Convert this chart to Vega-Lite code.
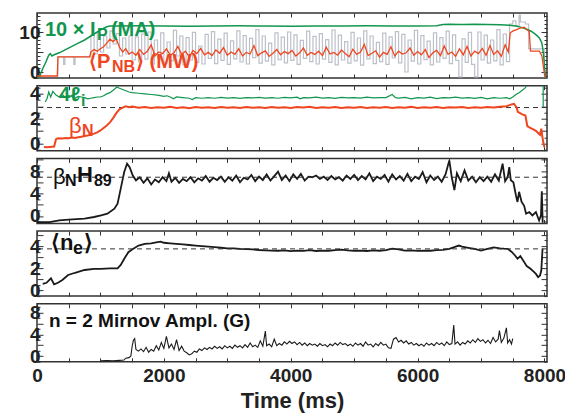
{
"$schema": "https://vega.github.io/schema/vega-lite/v6.json",
"padding": {"left": 6, "top": 11, "right": 0, "bottom": 0},
"spacing": 7.7,
"bounds": "flush",
"config": {
 "view": {"stroke": "#333", "strokeWidth": 1.5},
 "axis": {"grid": false, "domain": false, "tickColor": "#333", "tickWidth": 1, "tickSize": -4, "labelFont": "Liberation Sans", "labelFontWeight": "bold", "labelFontSize": 19, "labelColor": "#222", "labelPadding": 3, "titleFont": "Liberation Sans", "titleFontWeight": "bold", "titleFontSize": 22, "titleColor": "#222", "labelOverlap": false, "labelFlush": false, "labelBound": false, "format": "d"},
 "text": {"font": "Liberation Sans"}
},
"datasets": {
 "ip": [{"t":0,"v":-1.5},{"t":40,"v":-1.2},{"t":90,"v":0.8},{"t":140,"v":2.5},{"t":185,"v":4.2},{"t":210,"v":4.6},{"t":235,"v":4.0},{"t":270,"v":4.3},{"t":350,"v":4.8},{"t":450,"v":5.6},{"t":550,"v":6.4},{"t":650,"v":7.2},{"t":750,"v":8.0},{"t":850,"v":9.0},{"t":950,"v":10.0},{"t":1030,"v":10.8},{"t":1100,"v":11.3},{"t":1150,"v":11.5},{"t":1300,"v":11.5},{"t":1600,"v":11.55},{"t":2000,"v":11.5},{"t":2400,"v":11.45},{"t":2800,"v":11.5},{"t":3200,"v":11.55},{"t":3600,"v":11.5},{"t":4000,"v":11.45},{"t":4400,"v":11.5},{"t":4800,"v":11.5},{"t":5200,"v":11.55},{"t":5600,"v":11.5},{"t":6000,"v":11.5},{"t":6300,"v":11.55},{"t":6400,"v":11.85},{"t":6500,"v":11.95},{"t":6700,"v":11.9},{"t":6900,"v":11.95},{"t":7100,"v":11.85},{"t":7300,"v":11.8},{"t":7450,"v":11.7},{"t":7550,"v":11.5},{"t":7650,"v":11.1},{"t":7720,"v":10.7},{"t":7790,"v":10.2},{"t":7860,"v":9.4},{"t":7920,"v":8.5},{"t":7960,"v":7.2},{"t":7985,"v":4.5},{"t":8005,"v":0.5},{"t":8020,"v":-1.5}],
 "pnbRaw": [{"t":320,"v":-1.0},{"t":330,"v":3.8},{"t":420,"v":1.9},{"t":440,"v":3.8},{"t":580,"v":1.9},{"t":600,"v":3.8},{"t":850,"v":9.2},{"t":900,"v":4.5},{"t":950,"v":9.8},{"t":1000,"v":5.0},{"t":1050,"v":9.0},{"t":1100,"v":6.0},{"t":1150,"v":10.2},{"t":1200,"v":7.0},{"t":1250,"v":9.6},{"t":1300,"v":4.0},{"t":1350,"v":8.5},{"t":1400,"v":4.5},{"t":1450,"v":9.0},{"t":1500,"v":3.0},{"t":1550,"v":8.8},{"t":1600,"v":2.5},{"t":1650,"v":9.5},{"t":1700,"v":3.2},{"t":1750,"v":10.0},{"t":1800,"v":2.0},{"t":1850,"v":8.0},{"t":1900,"v":3.5},{"t":1950,"v":9.8},{"t":2000,"v":2.2},{"t":2050,"v":7.5},{"t":2100,"v":2.8},{"t":2150,"v":10.4},{"t":2200,"v":4.0},{"t":2250,"v":9.0},{"t":2300,"v":1.8},{"t":2350,"v":8.6},{"t":2400,"v":3.0},{"t":2450,"v":9.9},{"t":2500,"v":2.4},{"t":2550,"v":6.5},{"t":2600,"v":2.0},{"t":2650,"v":9.4},{"t":2700,"v":3.4},{"t":2750,"v":10.1},{"t":2800,"v":2.1},{"t":2850,"v":8.2},{"t":2900,"v":2.9},{"t":2950,"v":9.7},{"t":3000,"v":1.9},{"t":3050,"v":7.8},{"t":3100,"v":3.3},{"t":3150,"v":10.3},{"t":3200,"v":2.5},{"t":3250,"v":9.1},{"t":3300,"v":2.0},{"t":3350,"v":8.4},{"t":3400,"v":3.6},{"t":3450,"v":10.6},{"t":3500,"v":2.2},{"t":3550,"v":9.0},{"t":3600,"v":2.7},{"t":3650,"v":7.2},{"t":3700,"v":1.8},{"t":3750,"v":9.8},{"t":3800,"v":3.1},{"t":3850,"v":8.7},{"t":3900,"v":2.3},{"t":3950,"v":10.0},{"t":4000,"v":2.9},{"t":4050,"v":9.3},{"t":4100,"v":1.9},{"t":4150,"v":7.9},{"t":4200,"v":3.4},{"t":4250,"v":10.2},{"t":4300,"v":2.6},{"t":4350,"v":8.9},{"t":4400,"v":2.0},{"t":4450,"v":9.6},{"t":4500,"v":3.2},{"t":4550,"v":8.1},{"t":4600,"v":2.4},{"t":4650,"v":10.5},{"t":4700,"v":1.8},{"t":4750,"v":9.2},{"t":4800,"v":3.0},{"t":4850,"v":7.6},{"t":4900,"v":2.2},{"t":4950,"v":9.9},{"t":5000,"v":2.8},{"t":5050,"v":8.5},{"t":5100,"v":1.7},{"t":5150,"v":10.3},{"t":5200,"v":3.3},{"t":5250,"v":9.0},{"t":5300,"v":2.1},{"t":5350,"v":7.4},{"t":5400,"v":2.6},{"t":5450,"v":9.7},{"t":5500,"v":1.9},{"t":5550,"v":8.8},{"t":5600,"v":3.5},{"t":5650,"v":10.1},{"t":5700,"v":2.3},{"t":5750,"v":9.4},{"t":5800,"v":0.0},{"t":5850,"v":8.0},{"t":5900,"v":2.7},{"t":5950,"v":10.4},{"t":6000,"v":2.0},{"t":6050,"v":9.1},{"t":6100,"v":3.1},{"t":6150,"v":7.7},{"t":6200,"v":1.8},{"t":6250,"v":9.8},{"t":6300,"v":2.5},{"t":6350,"v":8.6},{"t":6400,"v":3.4},{"t":6450,"v":10.2},{"t":6500,"v":2.1},{"t":6550,"v":9.3},{"t":6600,"v":2.9},{"t":6650,"v":-1.2},{"t":6700,"v":8.3},{"t":6750,"v":2.4},{"t":6800,"v":9.9},{"t":6850,"v":1.9},{"t":6900,"v":-1.2},{"t":6950,"v":10.0},{"t":7000,"v":3.0},{"t":7050,"v":9.2},{"t":7100,"v":2.2},{"t":7150,"v":8.0},{"t":7200,"v":2.8},{"t":7250,"v":10.6},{"t":7300,"v":1.8},{"t":7350,"v":9.5},{"t":7400,"v":2.6},{"t":7450,"v":12.0},{"t":7500,"v":12.8},{"t":7550,"v":11.5},{"t":7600,"v":14.2},{"t":7620,"v":12.5},{"t":7700,"v":12.0},{"t":7750,"v":5.8},{"t":7950,"v":5.8},{"t":8000,"v":-1.4}],
 "pnb": [{"t":0,"v":-1.0},{"t":320,"v":-1.0},{"t":330,"v":3.8},{"t":830,"v":3.8},{"t":850,"v":5.0},{"t":900,"v":5.6},{"t":950,"v":5.2},{"t":1000,"v":5.8},{"t":1050,"v":6.3},{"t":1100,"v":7.2},{"t":1150,"v":8.2},{"t":1200,"v":7.6},{"t":1250,"v":8.3},{"t":1300,"v":6.2},{"t":1350,"v":5.0},{"t":1400,"v":5.8},{"t":1450,"v":4.5},{"t":1500,"v":5.0},{"t":1560,"v":4.2},{"t":1620,"v":5.6},{"t":1680,"v":4.4},{"t":1740,"v":5.2},{"t":1800,"v":6.8},{"t":1860,"v":4.0},{"t":1920,"v":5.0},{"t":1980,"v":4.6},{"t":2040,"v":5.8},{"t":2100,"v":4.2},{"t":2160,"v":4.8},{"t":2220,"v":6.4},{"t":2280,"v":4.4},{"t":2340,"v":5.2},{"t":2400,"v":3.8},{"t":2460,"v":5.4},{"t":2520,"v":4.6},{"t":2580,"v":5.9},{"t":2640,"v":4.3},{"t":2700,"v":4.9},{"t":2760,"v":4.1},{"t":2820,"v":5.5},{"t":2880,"v":4.7},{"t":2940,"v":6.1},{"t":3000,"v":4.2},{"t":3060,"v":5.0},{"t":3120,"v":4.4},{"t":3180,"v":5.8},{"t":3240,"v":4.0},{"t":3300,"v":4.9},{"t":3360,"v":4.5},{"t":3420,"v":6.6},{"t":3480,"v":4.1},{"t":3540,"v":4.8},{"t":3600,"v":5.3},{"t":3660,"v":3.9},{"t":3720,"v":4.7},{"t":3780,"v":5.6},{"t":3840,"v":4.3},{"t":3900,"v":5.1},{"t":3960,"v":4.6},{"t":4020,"v":5.4},{"t":4080,"v":4.0},{"t":4140,"v":4.8},{"t":4200,"v":6.0},{"t":4260,"v":4.2},{"t":4320,"v":4.9},{"t":4380,"v":4.4},{"t":4440,"v":5.2},{"t":4500,"v":4.1},{"t":4560,"v":6.2},{"t":4620,"v":4.5},{"t":4680,"v":4.9},{"t":4740,"v":4.2},{"t":4800,"v":5.5},{"t":4860,"v":4.6},{"t":4920,"v":3.8},{"t":4980,"v":5.7},{"t":5040,"v":4.4},{"t":5100,"v":5.0},{"t":5160,"v":6.9},{"t":5220,"v":4.1},{"t":5280,"v":4.7},{"t":5340,"v":5.3},{"t":5400,"v":3.7},{"t":5460,"v":4.9},{"t":5520,"v":4.4},{"t":5580,"v":6.3},{"t":5640,"v":4.0},{"t":5700,"v":5.2},{"t":5760,"v":4.5},{"t":5820,"v":4.8},{"t":5880,"v":6.0},{"t":5940,"v":4.2},{"t":6000,"v":5.1},{"t":6060,"v":4.3},{"t":6120,"v":5.6},{"t":6180,"v":3.6},{"t":6240,"v":4.8},{"t":6300,"v":5.4},{"t":6360,"v":4.1},{"t":6420,"v":6.5},{"t":6480,"v":4.4},{"t":6540,"v":5.0},{"t":6600,"v":3.9},{"t":6660,"v":5.8},{"t":6720,"v":4.3},{"t":6780,"v":6.4},{"t":6840,"v":4.0},{"t":6900,"v":5.2},{"t":6960,"v":4.6},{"t":7020,"v":5.9},{"t":7080,"v":4.2},{"t":7140,"v":6.6},{"t":7200,"v":4.4},{"t":7260,"v":5.3},{"t":7320,"v":3.9},{"t":7380,"v":6.8},{"t":7430,"v":5.0},{"t":7460,"v":9.8},{"t":7500,"v":10.2},{"t":7560,"v":10.6},{"t":7620,"v":11.0},{"t":7680,"v":11.2},{"t":7720,"v":10.6},{"t":7760,"v":10.1},{"t":7780,"v":5.2},{"t":7850,"v":5.2},{"t":7920,"v":5.2},{"t":7960,"v":4.0},{"t":7990,"v":0.5},{"t":8010,"v":-1.4}],
 "li": [{"t":130,"v":3.35},{"t":160,"v":3.65},{"t":185,"v":4.15},{"t":215,"v":3.75},{"t":250,"v":4.2},{"t":300,"v":3.9},{"t":350,"v":3.75},{"t":400,"v":3.95},{"t":450,"v":3.7},{"t":500,"v":3.85},{"t":550,"v":3.8},{"t":600,"v":3.65},{"t":650,"v":3.8},{"t":700,"v":3.75},{"t":750,"v":3.7},{"t":800,"v":3.6},{"t":850,"v":3.65},{"t":900,"v":3.7},{"t":950,"v":3.75},{"t":1000,"v":3.75},{"t":1050,"v":3.85},{"t":1100,"v":4.0},{"t":1150,"v":4.1},{"t":1200,"v":4.3},{"t":1260,"v":4.55},{"t":1300,"v":4.45},{"t":1350,"v":4.35},{"t":1400,"v":4.25},{"t":1450,"v":4.15},{"t":1500,"v":4.1},{"t":1600,"v":4.05},{"t":1700,"v":4.0},{"t":1800,"v":3.95},{"t":1900,"v":3.9},{"t":2000,"v":3.8},{"t":2050,"v":3.85},{"t":2100,"v":3.75},{"t":2150,"v":3.6},{"t":2200,"v":3.75},{"t":2300,"v":3.7},{"t":2400,"v":3.65},{"t":2450,"v":3.55},{"t":2500,"v":3.7},{"t":2600,"v":3.65},{"t":2700,"v":3.7},{"t":2800,"v":3.65},{"t":2900,"v":3.72},{"t":3000,"v":3.66},{"t":3100,"v":3.7},{"t":3200,"v":3.64},{"t":3300,"v":3.7},{"t":3400,"v":3.68},{"t":3500,"v":3.72},{"t":3600,"v":3.66},{"t":3700,"v":3.7},{"t":3800,"v":3.65},{"t":3900,"v":3.72},{"t":4000,"v":3.68},{"t":4100,"v":3.74},{"t":4150,"v":3.6},{"t":4200,"v":3.7},{"t":4300,"v":3.68},{"t":4400,"v":3.74},{"t":4500,"v":3.66},{"t":4600,"v":3.7},{"t":4700,"v":3.64},{"t":4800,"v":3.72},{"t":4900,"v":3.68},{"t":5000,"v":3.7},{"t":5100,"v":3.66},{"t":5200,"v":3.74},{"t":5300,"v":3.68},{"t":5400,"v":3.7},{"t":5500,"v":3.7},{"t":5600,"v":3.95},{"t":5650,"v":3.7},{"t":5700,"v":3.66},{"t":5800,"v":3.72},{"t":5900,"v":3.6},{"t":6000,"v":3.7},{"t":6100,"v":3.66},{"t":6200,"v":3.74},{"t":6300,"v":3.62},{"t":6400,"v":3.7},{"t":6500,"v":3.68},{"t":6600,"v":3.74},{"t":6700,"v":3.66},{"t":6800,"v":3.7},{"t":6900,"v":3.64},{"t":7000,"v":3.72},{"t":7100,"v":3.6},{"t":7200,"v":3.7},{"t":7300,"v":3.65},{"t":7400,"v":3.7},{"t":7450,"v":3.6},{"t":7500,"v":3.75},{"t":7550,"v":3.95},{"t":7600,"v":4.1},{"t":7650,"v":4.3},{"t":7700,"v":4.5},{"t":7740,"v":4.9}],
 "liEnd": [{"t":7980,"v":4.9},{"t":7980,"v":2.95}],
 "bn": [{"t":110,"v":-0.28},{"t":150,"v":-0.3},{"t":200,"v":-0.28},{"t":270,"v":-0.25},{"t":300,"v":0.35},{"t":330,"v":0.42},{"t":400,"v":0.4},{"t":450,"v":0.45},{"t":500,"v":0.42},{"t":550,"v":0.48},{"t":600,"v":0.45},{"t":650,"v":0.5},{"t":700,"v":0.55},{"t":750,"v":0.6},{"t":800,"v":0.65},{"t":850,"v":0.72},{"t":900,"v":0.8},{"t":950,"v":0.9},{"t":1000,"v":1.05},{"t":1050,"v":1.25},{"t":1100,"v":1.45},{"t":1150,"v":1.7},{"t":1200,"v":2.05},{"t":1250,"v":2.45},{"t":1300,"v":2.75},{"t":1350,"v":2.9},{"t":1400,"v":3.0},{"t":1450,"v":2.92},{"t":1500,"v":2.98},{"t":1600,"v":2.88},{"t":1700,"v":2.95},{"t":1800,"v":2.86},{"t":1900,"v":2.93},{"t":2000,"v":2.89},{"t":2100,"v":2.96},{"t":2200,"v":2.87},{"t":2300,"v":2.92},{"t":2400,"v":2.85},{"t":2500,"v":2.94},{"t":2600,"v":2.88},{"t":2700,"v":2.93},{"t":2800,"v":2.86},{"t":2900,"v":2.95},{"t":3000,"v":2.89},{"t":3100,"v":2.92},{"t":3200,"v":2.86},{"t":3300,"v":2.94},{"t":3400,"v":2.88},{"t":3500,"v":2.93},{"t":3600,"v":2.87},{"t":3700,"v":2.95},{"t":3800,"v":2.89},{"t":3900,"v":2.92},{"t":4000,"v":2.86},{"t":4100,"v":2.94},{"t":4200,"v":2.9},{"t":4300,"v":2.96},{"t":4400,"v":2.87},{"t":4500,"v":2.92},{"t":4600,"v":2.88},{"t":4700,"v":2.95},{"t":4800,"v":2.86},{"t":4900,"v":2.93},{"t":5000,"v":2.89},{"t":5100,"v":2.95},{"t":5200,"v":2.87},{"t":5300,"v":2.92},{"t":5400,"v":2.88},{"t":5500,"v":2.94},{"t":5600,"v":2.86},{"t":5700,"v":2.92},{"t":5800,"v":2.89},{"t":5900,"v":2.96},{"t":6000,"v":2.87},{"t":6100,"v":2.93},{"t":6200,"v":2.88},{"t":6300,"v":2.94},{"t":6400,"v":2.86},{"t":6500,"v":2.92},{"t":6600,"v":2.9},{"t":6700,"v":2.95},{"t":6800,"v":2.87},{"t":6900,"v":2.93},{"t":7000,"v":2.88},{"t":7100,"v":2.94},{"t":7200,"v":2.9},{"t":7300,"v":2.97},{"t":7400,"v":3.0},{"t":7480,"v":3.15},{"t":7520,"v":3.2},{"t":7560,"v":2.9},{"t":7580,"v":2.55},{"t":7650,"v":2.35},{"t":7700,"v":2.25},{"t":7730,"v":1.4},{"t":7760,"v":1.3},{"t":7800,"v":1.2},{"t":7840,"v":1.1},{"t":7870,"v":1.0},{"t":7900,"v":0.85},{"t":7930,"v":0.7},{"t":7950,"v":1.2},{"t":7965,"v":0.6},{"t":7985,"v":0.0},{"t":8000,"v":-0.3}],
 "bnh": [{"t":0,"v":-1.1},{"t":200,"v":-1.1},{"t":350,"v":-0.77},{"t":500,"v":-0.65},{"t":750,"v":-0.47},{"t":900,"v":-0.18},{"t":1010,"v":0.12},{"t":1110,"v":0.41},{"t":1220,"v":1.3},{"t":1270,"v":2.2},{"t":1320,"v":4.86},{"t":1375,"v":7.83},{"t":1420,"v":9.3},{"t":1460,"v":8.7},{"t":1510,"v":7.2},{"t":1560,"v":6.35},{"t":1620,"v":6.9},{"t":1680,"v":5.9},{"t":1740,"v":6.7},{"t":1800,"v":5.6},{"t":1860,"v":6.5},{"t":1920,"v":6.0},{"t":1980,"v":6.9},{"t":2040,"v":6.2},{"t":2080,"v":7.6},{"t":2120,"v":6.1},{"t":2180,"v":6.8},{"t":2240,"v":5.9},{"t":2300,"v":6.6},{"t":2360,"v":6.2},{"t":2420,"v":6.9},{"t":2480,"v":6.0},{"t":2540,"v":6.7},{"t":2600,"v":6.3},{"t":2660,"v":7.1},{"t":2720,"v":6.1},{"t":2780,"v":6.8},{"t":2840,"v":6.4},{"t":2900,"v":7.0},{"t":2960,"v":6.1},{"t":3020,"v":6.9},{"t":3080,"v":6.3},{"t":3140,"v":7.2},{"t":3200,"v":6.0},{"t":3260,"v":6.8},{"t":3320,"v":6.5},{"t":3380,"v":7.3},{"t":3440,"v":6.2},{"t":3500,"v":7.0},{"t":3560,"v":6.4},{"t":3620,"v":7.4},{"t":3680,"v":6.3},{"t":3740,"v":7.1},{"t":3800,"v":7.9},{"t":3860,"v":6.4},{"t":3920,"v":7.2},{"t":3980,"v":6.2},{"t":4040,"v":7.4},{"t":4100,"v":6.6},{"t":4160,"v":7.5},{"t":4220,"v":6.3},{"t":4280,"v":7.0},{"t":4340,"v":6.9},{"t":4400,"v":7.2},{"t":4460,"v":6.6},{"t":4520,"v":7.0},{"t":4580,"v":6.4},{"t":4640,"v":7.1},{"t":4700,"v":6.5},{"t":4760,"v":6.9},{"t":4820,"v":6.3},{"t":4880,"v":7.2},{"t":4940,"v":6.6},{"t":5000,"v":7.3},{"t":5060,"v":6.4},{"t":5120,"v":7.1},{"t":5180,"v":6.5},{"t":5240,"v":7.6},{"t":5300,"v":6.2},{"t":5360,"v":7.0},{"t":5420,"v":6.6},{"t":5480,"v":7.3},{"t":5540,"v":6.1},{"t":5600,"v":7.4},{"t":5660,"v":6.5},{"t":5720,"v":7.1},{"t":5780,"v":6.3},{"t":5840,"v":7.5},{"t":5900,"v":6.2},{"t":5960,"v":7.0},{"t":6020,"v":6.6},{"t":6080,"v":7.8},{"t":6140,"v":6.0},{"t":6200,"v":7.2},{"t":6260,"v":6.4},{"t":6320,"v":7.0},{"t":6380,"v":6.1},{"t":6440,"v":7.4},{"t":6500,"v":9.9},{"t":6540,"v":6.8},{"t":6580,"v":4.6},{"t":6620,"v":7.6},{"t":6680,"v":6.2},{"t":6740,"v":8.1},{"t":6800,"v":6.3},{"t":6860,"v":7.0},{"t":6920,"v":6.0},{"t":6980,"v":6.9},{"t":7040,"v":6.2},{"t":7100,"v":7.0},{"t":7160,"v":6.1},{"t":7220,"v":7.4},{"t":7280,"v":6.3},{"t":7340,"v":9.3},{"t":7380,"v":6.2},{"t":7420,"v":6.9},{"t":7445,"v":8.7},{"t":7470,"v":6.35},{"t":7510,"v":6.0},{"t":7550,"v":3.7},{"t":7575,"v":2.5},{"t":7600,"v":4.3},{"t":7640,"v":2.5},{"t":7680,"v":1.8},{"t":7710,"v":0.4},{"t":7760,"v":0.7},{"t":7810,"v":0.1},{"t":7865,"v":0.7},{"t":7915,"v":-0.8},{"t":7945,"v":0.1},{"t":7958,"v":4.4},{"t":7972,"v":-1.2}],
 "ne": [{"t":90,"v":0.6},{"t":150,"v":0.7},{"t":220,"v":1.1},{"t":270,"v":0.55},{"t":330,"v":0.7},{"t":400,"v":0.95},{"t":490,"v":1.4},{"t":600,"v":1.6},{"t":750,"v":1.85},{"t":900,"v":1.95},{"t":1010,"v":1.95},{"t":1150,"v":2.0},{"t":1270,"v":2.0},{"t":1320,"v":2.3},{"t":1380,"v":2.9},{"t":1440,"v":3.45},{"t":1500,"v":3.7},{"t":1600,"v":4.05},{"t":1700,"v":4.2},{"t":1800,"v":4.25},{"t":1900,"v":4.35},{"t":1950,"v":4.4},{"t":2000,"v":4.3},{"t":2100,"v":4.25},{"t":2200,"v":4.2},{"t":2300,"v":4.15},{"t":2400,"v":4.1},{"t":2500,"v":4.05},{"t":2600,"v":4.0},{"t":2700,"v":3.95},{"t":2800,"v":3.9},{"t":2900,"v":3.85},{"t":3000,"v":3.8},{"t":3100,"v":3.8},{"t":3200,"v":3.75},{"t":3300,"v":3.72},{"t":3400,"v":3.7},{"t":3500,"v":3.65},{"t":3600,"v":3.62},{"t":3700,"v":3.6},{"t":3800,"v":3.58},{"t":3900,"v":3.62},{"t":4000,"v":3.55},{"t":4100,"v":3.6},{"t":4200,"v":3.57},{"t":4300,"v":3.63},{"t":4400,"v":3.56},{"t":4500,"v":3.6},{"t":4600,"v":3.58},{"t":4700,"v":3.64},{"t":4800,"v":3.68},{"t":4900,"v":3.62},{"t":5000,"v":3.58},{"t":5100,"v":3.6},{"t":5200,"v":3.56},{"t":5300,"v":3.62},{"t":5400,"v":3.58},{"t":5500,"v":3.64},{"t":5600,"v":3.78},{"t":5700,"v":3.7},{"t":5800,"v":3.6},{"t":5900,"v":3.62},{"t":6000,"v":3.57},{"t":6100,"v":3.6},{"t":6200,"v":3.58},{"t":6300,"v":3.63},{"t":6400,"v":3.66},{"t":6500,"v":3.75},{"t":6600,"v":3.95},{"t":6650,"v":4.05},{"t":6700,"v":3.95},{"t":6800,"v":3.85},{"t":6900,"v":3.75},{"t":7000,"v":3.6},{"t":7100,"v":3.75},{"t":7200,"v":3.88},{"t":7300,"v":3.8},{"t":7360,"v":3.77},{"t":7420,"v":3.75},{"t":7480,"v":3.5},{"t":7530,"v":3.2},{"t":7575,"v":2.86},{"t":7620,"v":3.1},{"t":7680,"v":2.57},{"t":7720,"v":2.2},{"t":7780,"v":1.96},{"t":7830,"v":1.7},{"t":7865,"v":1.5},{"t":7900,"v":1.2},{"t":7930,"v":1.35},{"t":7950,"v":1.8},{"t":7970,"v":3.77}],
 "mir": [{"t":1000,"v":-0.9},{"t":1100,"v":-0.85},{"t":1200,"v":-0.9},{"t":1300,"v":-0.8},{"t":1370,"v":-0.75},{"t":1400,"v":-0.4},{"t":1450,"v":-0.3},{"t":1480,"v":0.0},{"t":1500,"v":1.8},{"t":1520,"v":2.9},{"t":1540,"v":3.2},{"t":1560,"v":1.2},{"t":1600,"v":0.9},{"t":1640,"v":1.3},{"t":1680,"v":0.8},{"t":1720,"v":1.6},{"t":1760,"v":0.7},{"t":1800,"v":1.2},{"t":1840,"v":0.9},{"t":1880,"v":1.9},{"t":1920,"v":1.1},{"t":1960,"v":2.5},{"t":2000,"v":1.4},{"t":2040,"v":3.6},{"t":2080,"v":1.5},{"t":2120,"v":2.2},{"t":2160,"v":1.2},{"t":2200,"v":3.0},{"t":2240,"v":1.0},{"t":2280,"v":1.8},{"t":2320,"v":0.9},{"t":2360,"v":0.6},{"t":2400,"v":0.2},{"t":2440,"v":0.4},{"t":2480,"v":0.9},{"t":2520,"v":0.7},{"t":2560,"v":1.3},{"t":2600,"v":1.0},{"t":2640,"v":1.5},{"t":2680,"v":1.2},{"t":2720,"v":1.6},{"t":2760,"v":1.3},{"t":2800,"v":1.8},{"t":2840,"v":1.4},{"t":2880,"v":1.7},{"t":2920,"v":1.3},{"t":2960,"v":1.9},{"t":3000,"v":1.5},{"t":3040,"v":1.8},{"t":3080,"v":1.4},{"t":3120,"v":2.0},{"t":3160,"v":1.6},{"t":3200,"v":1.9},{"t":3240,"v":1.5},{"t":3280,"v":2.1},{"t":3320,"v":1.6},{"t":3360,"v":2.4},{"t":3400,"v":1.7},{"t":3440,"v":2.0},{"t":3480,"v":1.6},{"t":3520,"v":2.8},{"t":3560,"v":1.8},{"t":3600,"v":4.6},{"t":3620,"v":1.9},{"t":3660,"v":2.2},{"t":3700,"v":1.7},{"t":3740,"v":3.1},{"t":3780,"v":1.9},{"t":3820,"v":2.3},{"t":3860,"v":2.0},{"t":3900,"v":2.6},{"t":3940,"v":2.2},{"t":3980,"v":2.7},{"t":4020,"v":2.3},{"t":4060,"v":2.6},{"t":4100,"v":2.1},{"t":4140,"v":2.5},{"t":4180,"v":2.0},{"t":4220,"v":2.4},{"t":4260,"v":1.9},{"t":4300,"v":2.3},{"t":4340,"v":2.0},{"t":4380,"v":2.2},{"t":4420,"v":1.8},{"t":4460,"v":2.3},{"t":4500,"v":1.9},{"t":4540,"v":2.1},{"t":4580,"v":1.7},{"t":4620,"v":2.2},{"t":4660,"v":1.9},{"t":4700,"v":2.4},{"t":4740,"v":2.0},{"t":4780,"v":2.5},{"t":4820,"v":2.1},{"t":4860,"v":2.3},{"t":4900,"v":1.9},{"t":4940,"v":2.2},{"t":4980,"v":1.8},{"t":5020,"v":2.4},{"t":5060,"v":2.0},{"t":5100,"v":2.3},{"t":5140,"v":1.8},{"t":5180,"v":2.6},{"t":5220,"v":2.0},{"t":5260,"v":2.2},{"t":5300,"v":1.7},{"t":5340,"v":2.3},{"t":5380,"v":1.9},{"t":5420,"v":2.5},{"t":5460,"v":2.0},{"t":5500,"v":2.2},{"t":5540,"v":1.5},{"t":5580,"v":1.4},{"t":5620,"v":3.1},{"t":5660,"v":3.4},{"t":5700,"v":2.6},{"t":5740,"v":2.9},{"t":5780,"v":2.4},{"t":5820,"v":2.8},{"t":5860,"v":2.2},{"t":5900,"v":2.5},{"t":5940,"v":2.0},{"t":5980,"v":2.3},{"t":6020,"v":1.9},{"t":6060,"v":2.2},{"t":6100,"v":1.8},{"t":6140,"v":2.4},{"t":6180,"v":2.0},{"t":6220,"v":2.3},{"t":6260,"v":1.9},{"t":6300,"v":2.5},{"t":6340,"v":2.1},{"t":6380,"v":2.4},{"t":6420,"v":1.9},{"t":6460,"v":2.6},{"t":6500,"v":2.1},{"t":6540,"v":2.3},{"t":6570,"v":5.7},{"t":6590,"v":2.2},{"t":6630,"v":2.6},{"t":6670,"v":2.0},{"t":6710,"v":2.5},{"t":6750,"v":2.2},{"t":6790,"v":2.8},{"t":6830,"v":2.4},{"t":6870,"v":3.0},{"t":6910,"v":2.5},{"t":6950,"v":3.2},{"t":6990,"v":2.7},{"t":7030,"v":3.0},{"t":7070,"v":2.4},{"t":7110,"v":2.9},{"t":7150,"v":2.3},{"t":7190,"v":3.4},{"t":7230,"v":2.6},{"t":7270,"v":3.1},{"t":7290,"v":4.7},{"t":7320,"v":2.5},{"t":7360,"v":3.3},{"t":7400,"v":5.2},{"t":7420,"v":2.4},{"t":7450,"v":3.0},{"t":7480,"v":2.2},{"t":7500,"v":3.2}],
 "ann": [
  {"p":1,"k":"m","s":"g","txt":"10 × I","t":126,"v":9.0},
  {"p":1,"k":"s","s":"g","txt":"P","t":946,"v":8.0},
  {"p":1,"k":"m","s":"g","txt":"(MA)","t":1166,"v":9.0},
  {"p":1,"k":"m","s":"r","txt":"⟨P","t":820,"v":1.0},
  {"p":1,"k":"s","s":"r","txt":"NB","t":1182,"v":0.0},
  {"p":1,"k":"m","s":"r","txt":"⟩ (MW)","t":1560,"v":1.0},
  {"p":2,"k":"m","s":"g","txt":"4ℓ","t":347,"v":3.43},
  {"p":2,"k":"s","s":"g","txt":"i","t":693,"v":3.02},
  {"p":2,"k":"b","s":"r","txt":"β","t":504,"v":0.85},
  {"p":2,"k":"s","s":"r","txt":"N","t":709,"v":0.6},
  {"p":3,"k":"b","s":"k","txt":"β","t":252,"v":5.7},
  {"p":3,"k":"s","s":"k","txt":"N","t":441,"v":5.34},
  {"p":3,"k":"m","s":"k","txt":"H","t":630,"v":6.05},
  {"p":3,"k":"s","s":"k","txt":"89","t":898,"v":5.34},
  {"p":4,"k":"m","s":"k","txt":"⟨n","t":221,"v":3.65},
  {"p":4,"k":"s","s":"k","txt":"e","t":567,"v":3.29},
  {"p":4,"k":"m","s":"k","txt":"⟩","t":741,"v":3.65},
  {"p":5,"k":"m","s":"k","txt":"n = 2 Mirnov Ampl. (G)","t":189,"v":5.35}
 ]
},
"vconcat": [
 {
  "width": 510, "height": 65,
  "resolve": {"axis": {"x": "independent", "y": "independent"}},
  "layer": [
   {"data": {"name": "pnbRaw"}, "mark": {"type": "line", "color": "#bcc0c8", "strokeWidth": 1.2, "interpolate": "step-after", "clip": true},
    "encoding": {
     "x": {"field": "t", "type": "quantitative", "scale": {"domain": [0, 8040], "nice": false, "zero": false}, "axis": {"orient": "bottom", "values": [0,500,1000,1500,2000,2500,3000,3500,4000,4500,5000,5500,6000,6500,7000,7500,8000], "labels": false, "title": null, "minExtent": 0, "maxExtent": 0}},
     "y": {"field": "v", "type": "quantitative", "scale": {"domain": [-1.5, 14.75], "nice": false, "zero": false}, "axis": {"orient": "left", "values": [-1,0,1,2,3,4,5,6,7,8,9,10,11,12,13,14], "labelExpr": "datum.value == 0 || datum.value == 10 ? datum.label : ''", "labelFontSize": {"condition": {"test": "datum.value == 0 || datum.value == 10", "value": 19}, "value": 0}, "tickSize": {"condition": {"test": "datum.value % 5 == 0", "value": -6}, "value": -3}, "title": null, "minExtent": 30, "maxExtent": 30}}}},
   {"data": {"name": "ip"}, "mark": {"type": "line", "color": "#12964f", "strokeWidth": 1.5, "clip": true},
    "encoding": {
     "x": {"field": "t", "type": "quantitative", "scale": {"domain": [0, 8040], "nice": false, "zero": false}, "axis": {"orient": "top", "values": [0,500,1000,1500,2000,2500,3000,3500,4000,4500,5000,5500,6000,6500,7000,7500,8000], "labels": false, "title": null, "minExtent": 0, "maxExtent": 0}},
     "y": {"field": "v", "type": "quantitative", "scale": {"domain": [-1.5, 14.75], "nice": false, "zero": false}, "axis": {"orient": "right", "values": [-1,0,1,2,3,4,5,6,7,8,9,10,11,12,13,14], "labels": false, "tickSize": {"condition": {"test": "datum.value % 5 == 0", "value": -6}, "value": -3}, "title": null, "minExtent": 0, "maxExtent": 0}}}},
   {"data": {"name": "pnb"}, "mark": {"type": "line", "color": "#f0461f", "strokeWidth": 1.3, "clip": true},
    "encoding": {
     "x": {"field": "t", "type": "quantitative", "scale": {"domain": [0, 8040], "nice": false, "zero": false}, "axis": null},
     "y": {"field": "v", "type": "quantitative", "scale": {"domain": [-1.5, 14.75], "nice": false, "zero": false}, "axis": null}}},
   {"data": {"name": "ann"}, "transform": [{"filter": "datum.p == 1 && datum.k == 'm'"}],
    "mark": {"type": "text", "align": "left", "baseline": "alphabetic", "fontSize": 20, "fontWeight": "bold"},
    "encoding": {
     "x": {"field": "t", "type": "quantitative", "scale": {"domain": [0, 8040], "nice": false, "zero": false}, "axis": null},
     "y": {"field": "v", "type": "quantitative", "scale": {"domain": [-1.5, 14.75], "nice": false, "zero": false}, "axis": null},
     "text": {"field": "txt"},
     "color": {"field": "s", "type": "nominal", "scale": {"domain": ["g", "r", "k"], "range": ["#12964f", "#f0461f", "#111111"]}, "legend": null}}},
   {"data": {"name": "ann"}, "transform": [{"filter": "datum.p == 1 && datum.k == 's'"}],
    "mark": {"type": "text", "align": "left", "baseline": "alphabetic", "fontSize": 16, "fontWeight": "bold"},
    "encoding": {
     "x": {"field": "t", "type": "quantitative", "scale": {"domain": [0, 8040], "nice": false, "zero": false}, "axis": null},
     "y": {"field": "v", "type": "quantitative", "scale": {"domain": [-1.5, 14.75], "nice": false, "zero": false}, "axis": null},
     "text": {"field": "txt"},
     "color": {"field": "s", "type": "nominal", "scale": {"domain": ["g", "r", "k"], "range": ["#12964f", "#f0461f", "#111111"]}, "legend": null}}}
  ]
 },
 {
  "width": 510, "height": 65,
  "resolve": {"axis": {"x": "independent", "y": "independent"}},
  "layer": [
   {"data": {"name": "li"}, "mark": {"type": "line", "color": "#12964f", "strokeWidth": 1.2, "clip": true},
    "encoding": {
     "x": {"field": "t", "type": "quantitative", "scale": {"domain": [0, 8040], "nice": false, "zero": false}, "axis": {"orient": "bottom", "values": [0,500,1000,1500,2000,2500,3000,3500,4000,4500,5000,5500,6000,6500,7000,7500,8000], "labels": false, "title": null, "minExtent": 0, "maxExtent": 0}},
     "y": {"field": "v", "type": "quantitative", "scale": {"domain": [-0.58, 4.66], "nice": false, "zero": false}, "axis": {"orient": "left", "values": [-0.5,0,0.5,1,1.5,2,2.5,3,3.5,4,4.5], "labelExpr": "datum.value == 0 || datum.value == 2 || datum.value == 4 ? datum.label : ''", "labelFontSize": {"condition": {"test": "datum.value == 0 || datum.value == 2 || datum.value == 4", "value": 19}, "value": 0}, "tickSize": {"condition": {"test": "datum.value % 1 == 0", "value": -6}, "value": -3}, "title": null, "minExtent": 30, "maxExtent": 30}}}},
   {"data": {"name": "liEnd"}, "mark": {"type": "line", "color": "#12964f", "strokeWidth": 1.2, "clip": true},
    "encoding": {
     "x": {"field": "t", "type": "quantitative", "scale": {"domain": [0, 8040], "nice": false, "zero": false}, "axis": null},
     "y": {"field": "v", "type": "quantitative", "scale": {"domain": [-0.58, 4.66], "nice": false, "zero": false}, "axis": null}}},
   {"data": {"values": [{}]}, "mark": {"type": "rule", "color": "#333333", "strokeWidth": 1, "strokeDash": [5, 4]},
    "encoding": {"y": {"datum": 2.9, "type": "quantitative", "scale": {"domain": [-0.58, 4.66], "nice": false, "zero": false}, "axis": null}}},
   {"data": {"name": "bn"}, "mark": {"type": "line", "color": "#f0461f", "strokeWidth": 2, "clip": true},
    "encoding": {
     "x": {"field": "t", "type": "quantitative", "scale": {"domain": [0, 8040], "nice": false, "zero": false}, "axis": {"orient": "top", "values": [0,500,1000,1500,2000,2500,3000,3500,4000,4500,5000,5500,6000,6500,7000,7500,8000], "labels": false, "title": null, "minExtent": 0, "maxExtent": 0}},
     "y": {"field": "v", "type": "quantitative", "scale": {"domain": [-0.58, 4.66], "nice": false, "zero": false}, "axis": {"orient": "right", "values": [-0.5,0,0.5,1,1.5,2,2.5,3,3.5,4,4.5], "labels": false, "tickSize": {"condition": {"test": "datum.value % 1 == 0", "value": -6}, "value": -3}, "title": null, "minExtent": 0, "maxExtent": 0}}}},
   {"data": {"name": "ann"}, "transform": [{"filter": "datum.p == 2 && datum.k == 'm'"}],
    "mark": {"type": "text", "align": "left", "baseline": "alphabetic", "fontSize": 20, "fontWeight": "bold"},
    "encoding": {
     "x": {"field": "t", "type": "quantitative", "scale": {"domain": [0, 8040], "nice": false, "zero": false}, "axis": null},
     "y": {"field": "v", "type": "quantitative", "scale": {"domain": [-0.58, 4.66], "nice": false, "zero": false}, "axis": null},
     "text": {"field": "txt"},
     "color": {"field": "s", "type": "nominal", "scale": {"domain": ["g", "r", "k"], "range": ["#12964f", "#f0461f", "#111111"]}, "legend": null}}},
   {"data": {"name": "ann"}, "transform": [{"filter": "datum.p == 2 && datum.k == 's'"}],
    "mark": {"type": "text", "align": "left", "baseline": "alphabetic", "fontSize": 16, "fontWeight": "bold"},
    "encoding": {
     "x": {"field": "t", "type": "quantitative", "scale": {"domain": [0, 8040], "nice": false, "zero": false}, "axis": null},
     "y": {"field": "v", "type": "quantitative", "scale": {"domain": [-0.58, 4.66], "nice": false, "zero": false}, "axis": null},
     "text": {"field": "txt"},
     "color": {"field": "s", "type": "nominal", "scale": {"domain": ["g", "r", "k"], "range": ["#12964f", "#f0461f", "#111111"]}, "legend": null}}},
   {"data": {"name": "ann"}, "transform": [{"filter": "datum.p == 2 && datum.k == 'b'"}],
    "mark": {"type": "text", "align": "left", "baseline": "alphabetic", "fontSize": 22, "fontWeight": "normal"},
    "encoding": {
     "x": {"field": "t", "type": "quantitative", "scale": {"domain": [0, 8040], "nice": false, "zero": false}, "axis": null},
     "y": {"field": "v", "type": "quantitative", "scale": {"domain": [-0.58, 4.66], "nice": false, "zero": false}, "axis": null},
     "text": {"field": "txt"},
     "color": {"field": "s", "type": "nominal", "scale": {"domain": ["g", "r", "k"], "range": ["#12964f", "#f0461f", "#111111"]}, "legend": null}}}
  ]
 },
 {
  "width": 510, "height": 65,
  "resolve": {"axis": {"x": "independent", "y": "independent"}},
  "layer": [
   {"data": {"name": "bnh"}, "mark": {"type": "line", "color": "#1a1a1a", "strokeWidth": 1.8, "clip": true},
    "encoding": {
     "x": {"field": "t", "type": "quantitative", "scale": {"domain": [0, 8040], "nice": false, "zero": false}, "axis": {"orient": "bottom", "values": [0,500,1000,1500,2000,2500,3000,3500,4000,4500,5000,5500,6000,6500,7000,7500,8000], "labels": false, "title": null, "minExtent": 0, "maxExtent": 0}},
     "y": {"field": "v", "type": "quantitative", "scale": {"domain": [-1.32, 10.25], "nice": false, "zero": false}, "axis": {"orient": "left", "values": [-1,0,1,2,3,4,5,6,7,8,9,10], "labelExpr": "datum.value == 0 || datum.value == 4 || datum.value == 8 ? datum.label : ''", "labelFontSize": {"condition": {"test": "datum.value == 0 || datum.value == 4 || datum.value == 8", "value": 19}, "value": 0}, "tickSize": {"condition": {"test": "datum.value % 2 == 0", "value": -6}, "value": -3}, "title": null, "minExtent": 30, "maxExtent": 30}}}},
   {"data": {"values": [{}]}, "mark": {"type": "rule", "color": "#333333", "strokeWidth": 1, "strokeDash": [5, 4]},
    "encoding": {"y": {"datum": 6.9, "type": "quantitative", "scale": {"domain": [-1.32, 10.25], "nice": false, "zero": false}, "axis": null}}},
   {"data": {"name": "ann"}, "transform": [{"filter": "datum.p == 3 && datum.k == 'm'"}],
    "mark": {"type": "text", "align": "left", "baseline": "alphabetic", "fontSize": 22, "fontWeight": "bold"},
    "encoding": {
     "x": {"field": "t", "type": "quantitative", "scale": {"domain": [0, 8040], "nice": false, "zero": false}, "axis": {"orient": "top", "values": [0,500,1000,1500,2000,2500,3000,3500,4000,4500,5000,5500,6000,6500,7000,7500,8000], "labels": false, "title": null, "minExtent": 0, "maxExtent": 0}},
     "y": {"field": "v", "type": "quantitative", "scale": {"domain": [-1.32, 10.25], "nice": false, "zero": false}, "axis": {"orient": "right", "values": [-1,0,1,2,3,4,5,6,7,8,9,10], "labels": false, "tickSize": {"condition": {"test": "datum.value % 2 == 0", "value": -6}, "value": -3}, "title": null, "minExtent": 0, "maxExtent": 0}},
     "text": {"field": "txt"},
     "color": {"field": "s", "type": "nominal", "scale": {"domain": ["g", "r", "k"], "range": ["#12964f", "#f0461f", "#111111"]}, "legend": null}}},
   {"data": {"name": "ann"}, "transform": [{"filter": "datum.p == 3 && datum.k == 's'"}],
    "mark": {"type": "text", "align": "left", "baseline": "alphabetic", "fontSize": 16, "fontWeight": "bold"},
    "encoding": {
     "x": {"field": "t", "type": "quantitative", "scale": {"domain": [0, 8040], "nice": false, "zero": false}, "axis": null},
     "y": {"field": "v", "type": "quantitative", "scale": {"domain": [-1.32, 10.25], "nice": false, "zero": false}, "axis": null},
     "text": {"field": "txt"},
     "color": {"field": "s", "type": "nominal", "scale": {"domain": ["g", "r", "k"], "range": ["#12964f", "#f0461f", "#111111"]}, "legend": null}}},
   {"data": {"name": "ann"}, "transform": [{"filter": "datum.p == 3 && datum.k == 'b'"}],
    "mark": {"type": "text", "align": "left", "baseline": "alphabetic", "fontSize": 22, "fontWeight": "normal"},
    "encoding": {
     "x": {"field": "t", "type": "quantitative", "scale": {"domain": [0, 8040], "nice": false, "zero": false}, "axis": null},
     "y": {"field": "v", "type": "quantitative", "scale": {"domain": [-1.32, 10.25], "nice": false, "zero": false}, "axis": null},
     "text": {"field": "txt"},
     "color": {"field": "s", "type": "nominal", "scale": {"domain": ["g", "r", "k"], "range": ["#12964f", "#f0461f", "#111111"]}, "legend": null}}}
  ]
 },
 {
  "width": 510, "height": 65,
  "resolve": {"axis": {"x": "independent", "y": "independent"}},
  "layer": [
   {"data": {"name": "ne"}, "mark": {"type": "line", "color": "#1a1a1a", "strokeWidth": 1.8, "clip": true},
    "encoding": {
     "x": {"field": "t", "type": "quantitative", "scale": {"domain": [0, 8040], "nice": false, "zero": false}, "axis": {"orient": "bottom", "values": [0,500,1000,1500,2000,2500,3000,3500,4000,4500,5000,5500,6000,6500,7000,7500,8000], "labels": false, "title": null, "minExtent": 0, "maxExtent": 0}},
     "y": {"field": "v", "type": "quantitative", "scale": {"domain": [-0.5, 5.35], "nice": false, "zero": false}, "axis": {"orient": "left", "values": [-0.5,0,0.5,1,1.5,2,2.5,3,3.5,4,4.5,5], "labelExpr": "datum.value == 0 || datum.value == 2 || datum.value == 4 ? datum.label : ''", "labelFontSize": {"condition": {"test": "datum.value == 0 || datum.value == 2 || datum.value == 4", "value": 19}, "value": 0}, "tickSize": {"condition": {"test": "datum.value % 1 == 0", "value": -6}, "value": -3}, "title": null, "minExtent": 30, "maxExtent": 30}}}},
   {"data": {"values": [{}]}, "mark": {"type": "rule", "color": "#333333", "strokeWidth": 1, "strokeDash": [5, 4]},
    "encoding": {"y": {"datum": 3.75, "type": "quantitative", "scale": {"domain": [-0.5, 5.35], "nice": false, "zero": false}, "axis": null}}},
   {"data": {"name": "ann"}, "transform": [{"filter": "datum.p == 4 && datum.k == 'm'"}],
    "mark": {"type": "text", "align": "left", "baseline": "alphabetic", "fontSize": 22, "fontWeight": "bold"},
    "encoding": {
     "x": {"field": "t", "type": "quantitative", "scale": {"domain": [0, 8040], "nice": false, "zero": false}, "axis": {"orient": "top", "values": [0,500,1000,1500,2000,2500,3000,3500,4000,4500,5000,5500,6000,6500,7000,7500,8000], "labels": false, "title": null, "minExtent": 0, "maxExtent": 0}},
     "y": {"field": "v", "type": "quantitative", "scale": {"domain": [-0.5, 5.35], "nice": false, "zero": false}, "axis": {"orient": "right", "values": [-0.5,0,0.5,1,1.5,2,2.5,3,3.5,4,4.5,5], "labels": false, "tickSize": {"condition": {"test": "datum.value % 1 == 0", "value": -6}, "value": -3}, "title": null, "minExtent": 0, "maxExtent": 0}},
     "text": {"field": "txt"},
     "color": {"field": "s", "type": "nominal", "scale": {"domain": ["g", "r", "k"], "range": ["#12964f", "#f0461f", "#111111"]}, "legend": null}}},
   {"data": {"name": "ann"}, "transform": [{"filter": "datum.p == 4 && datum.k == 's'"}],
    "mark": {"type": "text", "align": "left", "baseline": "alphabetic", "fontSize": 18, "fontWeight": "bold"},
    "encoding": {
     "x": {"field": "t", "type": "quantitative", "scale": {"domain": [0, 8040], "nice": false, "zero": false}, "axis": null},
     "y": {"field": "v", "type": "quantitative", "scale": {"domain": [-0.5, 5.35], "nice": false, "zero": false}, "axis": null},
     "text": {"field": "txt"},
     "color": {"field": "s", "type": "nominal", "scale": {"domain": ["g", "r", "k"], "range": ["#12964f", "#f0461f", "#111111"]}, "legend": null}}}
  ]
 },
 {
  "width": 510, "height": 58,
  "resolve": {"axis": {"x": "independent", "y": "independent"}},
  "layer": [
   {"data": {"name": "mir"}, "mark": {"type": "line", "color": "#1a1a1a", "strokeWidth": 1.1, "clip": true},
    "encoding": {
     "x": {"field": "t", "type": "quantitative", "scale": {"domain": [0, 8040], "nice": false, "zero": false}, "axis": {"orient": "bottom", "values": [0,500,1000,1500,2000,2500,3000,3500,4000,4500,5000,5500,6000,6500,7000,7500,8000], "labelExpr": "datum.value % 2000 == 0 ? datum.label : ''", "labelFontSize": {"condition": {"test": "datum.value % 2000 == 0", "value": 19}, "value": 0}, "labelPadding": 9, "title": "Time (ms)", "titlePadding": 5}},
     "y": {"field": "v", "type": "quantitative", "scale": {"domain": [-1.07, 9.63], "nice": false, "zero": false}, "axis": {"orient": "left", "values": [-1,0,1,2,3,4,5,6,7,8,9], "labelExpr": "datum.value == 0 || datum.value == 4 || datum.value == 8 ? datum.label : ''", "labelFontSize": {"condition": {"test": "datum.value == 0 || datum.value == 4 || datum.value == 8", "value": 19}, "value": 0}, "tickSize": {"condition": {"test": "datum.value % 2 == 0", "value": -6}, "value": -3}, "title": null, "minExtent": 30, "maxExtent": 30}}}},
   {"data": {"name": "ann"}, "transform": [{"filter": "datum.p == 5 && datum.k == 'm'"}],
    "mark": {"type": "text", "align": "left", "baseline": "alphabetic", "fontSize": 19, "fontWeight": "bold"},
    "encoding": {
     "x": {"field": "t", "type": "quantitative", "scale": {"domain": [0, 8040], "nice": false, "zero": false}, "axis": {"orient": "top", "values": [0,500,1000,1500,2000,2500,3000,3500,4000,4500,5000,5500,6000,6500,7000,7500,8000], "labels": false, "title": null, "minExtent": 0, "maxExtent": 0}},
     "y": {"field": "v", "type": "quantitative", "scale": {"domain": [-1.07, 9.63], "nice": false, "zero": false}, "axis": {"orient": "right", "values": [-1,0,1,2,3,4,5,6,7,8,9], "labels": false, "tickSize": {"condition": {"test": "datum.value % 2 == 0", "value": -6}, "value": -3}, "title": null, "minExtent": 0, "maxExtent": 0}},
     "text": {"field": "txt"},
     "color": {"field": "s", "type": "nominal", "scale": {"domain": ["g", "r", "k"], "range": ["#12964f", "#f0461f", "#111111"]}, "legend": null}}}
  ]
 }
]
}
